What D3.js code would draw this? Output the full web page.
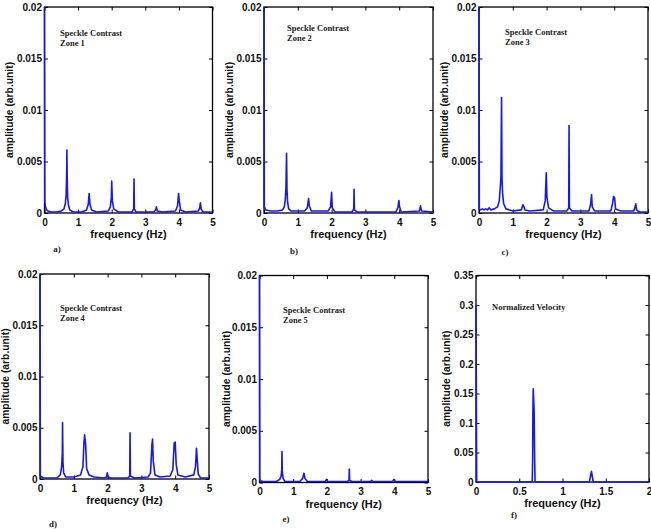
<!DOCTYPE html>
<html><head><meta charset="utf-8">
<script src="https://cdn.jsdelivr.net/npm/d3@7/dist/d3.min.js"></script>
<style>body{margin:0;background:#fff}svg{display:block}</style>
</head><body><svg id="c" width="651" height="529"></svg>
<script>
// ---------- data ----------
const freqTicks5 = [0, 1, 2, 3, 4, 5];
const freqTicks2 = [0, 0.5, 1, 1.5, 2];
const ampTicks = [0, 0.005, 0.01, 0.015, 0.02];
const ampTickLabels = ["0", "0.005", "0.01", "0.015", "0.02"];
const velTicks = [0, 0.05, 0.1, 0.15, 0.2, 0.25, 0.3, 0.35];
const velTickLabels = ["0", "0.05", "0.1", "0.15", "0.2", "0.25", "0.3", "0.35"];

const zone1 = [[0,0.02],[0.01,0.0011],[0.03,0.0006],[0.06,0.0003],[0.1,0.0002],[0.2,0.0001],[0.35,0.0001],[0.5,0.0002],[0.58,0.0004],[0.62,0.0009],[0.645,0.0018],[0.66,0.004],[0.667,0.0061],[0.675,0.0035],[0.69,0.0015],[0.71,0.0008],[0.75,0.0003],[0.85,0.0001],[1.1,0.0001],[1.25,0.0003],[1.3,0.0008],[1.33,0.0019],[1.35,0.0009],[1.4,0.0003],[1.55,0.0001],[1.9,0.0002],[1.96,0.0006],[1.99,0.0015],[2.0,0.0031],[2.02,0.0012],[2.06,0.0004],[2.2,0.0001],[2.6,0.0001],[2.655,0.0004],[2.665,0.0033],[2.675,0.0004],[2.72,0.0001],[3.25,0.0001],[3.31,0.0003],[3.33,0.0006],[3.36,0.0002],[3.5,0.0001],[3.9,0.0002],[3.96,0.0007],[3.99,0.0019],[4.01,0.0012],[4.05,0.0003],[4.2,0.0001],[4.58,0.0002],[4.62,0.0005],[4.64,0.001],[4.66,0.0004],[4.72,0.0001],[5,0.0001]];
const zone2 = [[0,0.02],[0.01,0.0006],[0.05,0.0003],[0.2,0.0002],[0.4,0.0002],[0.55,0.0003],[0.6,0.0006],[0.63,0.0013],[0.65,0.0025],[0.667,0.0058],[0.68,0.0022],[0.7,0.001],[0.73,0.0004],[0.8,0.0002],[1.2,0.0002],[1.28,0.0005],[1.32,0.0014],[1.34,0.0007],[1.4,0.0002],[1.9,0.0002],[1.97,0.0006],[2.0,0.002],[2.02,0.0005],[2.1,0.0001],[2.6,0.0001],[2.655,0.0004],[2.665,0.0023],[2.675,0.0003],[2.75,0.0001],[3.9,0.0001],[3.96,0.0005],[3.99,0.0012],[4.01,0.0006],[4.06,0.0001],[4.6,0.0002],[4.63,0.0007],[4.66,0.0002],[5,0.0001]];
const zone3 = [[0,0.02],[0.01,0.0004],[0.05,0.0003],[0.1,0.0004],[0.15,0.0003],[0.2,0.0004],[0.25,0.0003],[0.3,0.0005],[0.35,0.0003],[0.45,0.0004],[0.55,0.0006],[0.6,0.0012],[0.63,0.0025],[0.65,0.0036],[0.667,0.0112],[0.68,0.0034],[0.7,0.0018],[0.73,0.0009],[0.8,0.0004],[1.0,0.0002],[1.25,0.0003],[1.3,0.0008],[1.33,0.0006],[1.36,0.0003],[1.5,0.0002],[1.9,0.0003],[1.96,0.0012],[1.99,0.0039],[2.01,0.0015],[2.06,0.0005],[2.2,0.0002],[2.6,0.0002],[2.655,0.0005],[2.665,0.0085],[2.675,0.0005],[2.75,0.0002],[3.25,0.0002],[3.3,0.0008],[3.33,0.0018],[3.35,0.0006],[3.42,0.0002],[3.9,0.0002],[3.95,0.0009],[3.98,0.0016],[4.01,0.0015],[4.04,0.0004],[4.2,0.0002],[4.58,0.0002],[4.62,0.0006],[4.64,0.0009],[4.66,0.0003],[4.75,0.0001],[5,0.0001]];
const zone4 = [[0,0.02],[0.01,0.0003],[0.1,0.0001],[0.5,0.0001],[0.6,0.0004],[0.64,0.0012],[0.66,0.0025],[0.667,0.0055],[0.68,0.0016],[0.7,0.0006],[0.76,0.0002],[0.9,0.0002],[1.0,0.0002],[1.2,0.0004],[1.27,0.0012],[1.3,0.0035],[1.32,0.0043],[1.35,0.0034],[1.38,0.001],[1.45,0.0004],[1.6,0.0002],[1.9,0.0001],[1.97,0.0002],[1.99,0.0006],[2.02,0.0002],[2.1,0.0001],[2.6,0.0001],[2.655,0.0003],[2.665,0.0045],[2.675,0.0003],[2.8,0.0001],[3.2,0.0002],[3.27,0.0006],[3.31,0.0033],[3.33,0.0039],[3.35,0.0018],[3.4,0.0004],[3.55,0.0002],[3.85,0.0003],[3.93,0.0009],[3.97,0.0035],[4.0,0.0036],[4.03,0.0014],[4.08,0.0004],[4.3,0.0002],[4.55,0.0004],[4.6,0.0012],[4.63,0.003],[4.65,0.002],[4.68,0.0005],[4.75,0.0001],[5,0.0001]];
const zone5 = [[0,0.02],[0.01,0.0002],[0.1,0.0001],[0.5,0.0001],[0.6,0.0003],[0.64,0.0006],[0.66,0.0012],[0.667,0.003],[0.675,0.0011],[0.7,0.0004],[0.75,0.0001],[1.2,0.0001],[1.28,0.0004],[1.32,0.0009],[1.35,0.0004],[1.42,0.0001],[1.95,0.0001],[1.99,0.0003],[2.02,0.0001],[2.6,0.0001],[2.655,0.0002],[2.665,0.0013],[2.675,0.0002],[2.75,0.0001],[3.3,0.0001],[3.33,0.0002],[3.36,0.0001],[3.95,0.0001],[3.99,0.0003],[4.02,0.0001],[5,0.0001]];
const velocity = [[0,0.3],[0.008,0],[0.65,0],[0.655,0.04],[0.658,0.12],[0.662,0.158],[0.672,0.12],[0.678,0.04],[0.683,0],[1.31,0],[1.335,0.018],[1.355,0],[2,0]];

const notes = [["Speckle Contrast","Zone 1"],["Speckle Contrast","Zone 2"],["Speckle Contrast","Zone 3"],["Speckle Contrast","Zone 4"],["Speckle Contrast","Zone 5"],["Normalized Velocity"]];
const letters = ["a)","b)","c)","d)","e)","f)"];
const xLabel = "frequency (Hz)";
const yLabel = "amplitude (arb.unit)";

// ---------- layout ----------
const panels = [
  {data: zone1, xmax:5, xt:freqTicks5, ymax:0.02, yt:ampTicks, ytl:ampTickLabels, L:44.5, R:212.5, T:7, B:213, noteX:60, noteY:36, letX:57, letY:252, ylOff:31.5},
  {data: zone2, xmax:5, xt:freqTicks5, ymax:0.02, yt:ampTicks, ytl:ampTickLabels, L:264, R:433, T:7, B:213, noteX:287, noteY:31, letX:294, letY:254, ylOff:31},
  {data: zone3, xmax:5, xt:freqTicks5, ymax:0.02, yt:ampTicks, ytl:ampTickLabels, L:479, R:648, T:7, B:213, noteX:505, noteY:35, letX:505, letY:255, ylOff:31},
  {data: zone4, xmax:5, xt:freqTicks5, ymax:0.02, yt:ampTicks, ytl:ampTickLabels, L:40, R:209, T:274, B:479, noteX:60, noteY:311, letX:53, letY:527, ylOff:31},
  {data: zone5, xmax:5, xt:freqTicks5, ymax:0.02, yt:ampTicks, ytl:ampTickLabels, L:259.5, R:428, T:275.5, B:482.5, noteX:283, noteY:313, letX:286, letY:522, ylOff:30},
  {data: velocity, xmax:2, xt:freqTicks2, ymax:0.35, yt:velTicks, ytl:velTickLabels, L:476, R:649, T:275.5, B:482, noteX:492, noteY:310, letX:514, letY:518, ylOff:26}
];

const svg = d3.select("#c");
const lineColor = "#1717ee";
const tickLen = 3.5;
const sans = "Liberation Sans, Arial, sans-serif";
const serif = "Liberation Serif, Times New Roman, serif";

panels.forEach((p, i) => {
  const x = d3.scaleLinear().domain([0, p.xmax]).range([p.L, p.R]);
  const y = d3.scaleLinear().domain([0, p.ymax]).range([p.B, p.T]);
  const g = svg.append("g");
  const fmtY = v => p.ytl[p.yt.indexOf(v)];

  const axB = d3.axisBottom(x).tickValues(p.xt).tickSize(-tickLen).tickPadding(5.5).tickFormat(d3.format("~g"));
  const axT = d3.axisTop(x).tickValues(p.xt).tickSize(-tickLen).tickFormat("");
  const axL = d3.axisLeft(y).tickValues(p.yt).tickSize(-tickLen).tickPadding(2.5).tickFormat(fmtY);
  const axR = d3.axisRight(y).tickValues(p.yt).tickSize(-tickLen).tickFormat("");

  const styleAx = sel => {
    sel.selectAll(".tick line").attr("stroke", "#000").attr("stroke-width", 1);
    sel.selectAll("text").attr("font-family", sans).attr("font-weight", "bold").attr("font-size", "10px").attr("fill", "#111");
  };
  g.append("g").attr("transform", `translate(0,${p.B})`).call(axB).call(styleAx);
  g.append("g").attr("transform", `translate(0,${p.T})`).call(axT).call(styleAx);
  g.append("g").attr("transform", `translate(${p.L},0)`).call(axL).call(styleAx);
  g.append("g").attr("transform", `translate(${p.R},0)`).call(axR).call(styleAx);
  g.selectAll(".domain").remove();
  g.append("rect").attr("x", p.L).attr("y", p.T).attr("width", p.R - p.L).attr("height", p.B - p.T)
    .attr("fill", "none").attr("stroke", "#000").attr("stroke-width", 1.3);

  const clipId = "clip" + i;
  svg.append("clipPath").attr("id", clipId).append("rect")
    .attr("x", p.L - 2).attr("y", p.T).attr("width", p.R - p.L + 2).attr("height", p.B - p.T + 1);
  const line = d3.line().x(d => x(d[0])).y(d => y(d[1]));
  g.append("path").datum(p.data).attr("d", line).attr("clip-path", `url(#${clipId})`)
    .attr("fill", "none").attr("stroke", lineColor).attr("stroke-width", 1.6).attr("stroke-linejoin", "round");

  g.append("text").attr("x", (p.L + p.R) / 2).attr("y", p.B + 25).attr("text-anchor", "middle")
    .attr("font-family", sans).attr("font-weight", "bold").attr("font-size", "11px").attr("fill", "#111").text(xLabel);
  g.append("text").attr("transform", `translate(${p.L - p.ylOff},${(p.T + p.B) / 2}) rotate(-90)`).attr("text-anchor", "middle")
    .attr("font-family", sans).attr("font-weight", "bold").attr("font-size", "10.3px").attr("fill", "#111").text(yLabel);

  notes[i].forEach((t, k) => {
    g.append("text").attr("x", p.noteX).attr("y", p.noteY + k * 9.5)
      .attr("font-family", serif).attr("font-weight", "bold").attr("font-size", "8.5px").attr("fill", "#222").text(t);
  });
  g.append("text").attr("x", p.letX).attr("y", p.letY).attr("text-anchor", "middle")
    .attr("font-family", serif).attr("font-weight", "bold").attr("font-size", "9px").attr("fill", "#222").text(letters[i]);
});
</script></body></html>
